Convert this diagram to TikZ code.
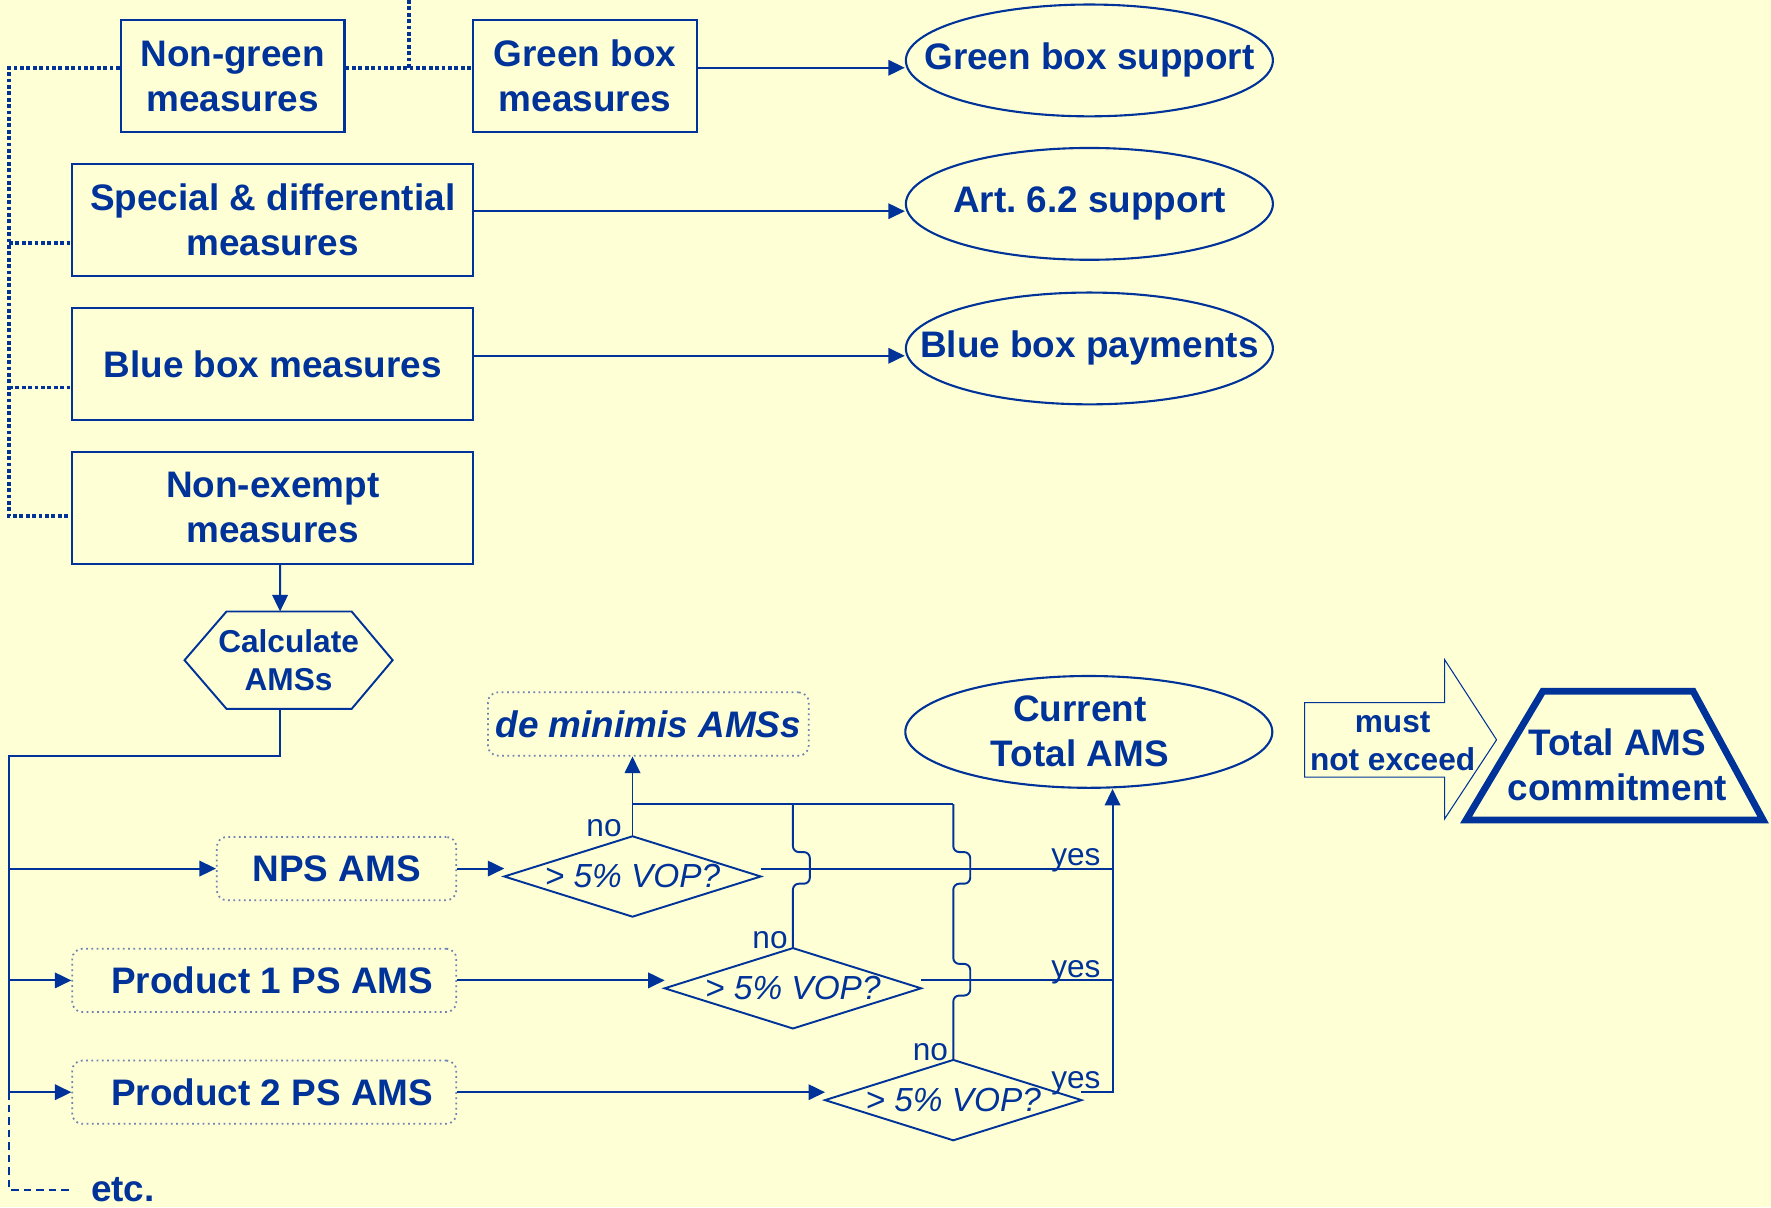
\documentclass[tikz,border=0pt]{standalone}
\usepackage{fontspec}
\setmainfont{Liberation Sans}
\usetikzlibrary{shapes.geometric, arrows.meta}
\definecolor{amsblue}{RGB}{0,51,153}
\definecolor{amspaper}{RGB}{255,255,213}
\definecolor{amsdot}{RGB}{110,130,180}
\newcommand\amsbig{\fontsize{10.5}{12.8}\selectfont\bfseries}
\newcommand\amssmall{\fontsize{9}{10.8}\selectfont\bfseries}

\begin{document}
\begin{tikzpicture}
    [x=0.11295mm, y=-0.11295mm,
    BoxNode/.style={draw=amsblue, line width=0.6pt, minimum height=11.18mm, inner sep=0pt, align=center, text=amsblue, font=\amsbig},
    OvalNode/.style={ellipse, draw=amsblue, line width=0.6pt, minimum width=36.7mm, minimum height=11.18mm, inner sep=0pt, align=center, text=amsblue, font=\amsbig},
    AmsNode/.style={draw=amsdot, densely dotted, line width=0.5pt, rounded corners=1mm, minimum height=6.33mm, inner sep=0pt, text=amsblue, font=\amsbig},
    VopNode/.style={minimum width=25.5mm, minimum height=7.9mm, inner sep=0pt, text=amsblue, font=\fontsize{9.5}{11}\selectfont\itshape},
    AnsNode/.style={inner sep=0pt, text=amsblue, font=\fontsize{9}{10}\selectfont},
    Link/.style={amsblue, line width=0.55pt},
    arr/.style={Link, -{Triangle[length=1.65mm, width=1.55mm]}},
    DotLine/.style={amsblue, line width=1.05pt, dash pattern=on 0.38mm off 0.26mm}]
    \fill[amspaper] (0,0) rectangle (1568,1069);
    \useasboundingbox (0,0) rectangle (1568,1069);

    \node[BoxNode, minimum width=22.36mm] (ngm) at (206,67.5){Non-green\\measures};
    \node[BoxNode, minimum width=22.36mm] (gbm) at (518,67.5){Green box\\measures};
    \node[BoxNode, minimum width=40.1mm] (spec) at (241.5,194.5){Special \& differential\\measures};
    \node[BoxNode, minimum width=40.1mm] (blue) at (241.5,322.5){Blue box measures};
    \node[BoxNode, minimum width=40.1mm] (nex) at (241.5,449.5){Non-exempt\\measures};
    \node[OvalNode] (gbs) at (964.5,53.5){\makebox[0pt]{Green box support}};
    \node[OvalNode] (art) at (964.5,180.5){\makebox[0pt]{Art.\ 6.2 support}};
    \node[OvalNode] (bbp) at (964.5,308.5){\makebox[0pt]{Blue box payments}};
    \node[OvalNode] (cur) at (964,648){\makebox[0pt]{\hspace{-1.8mm}\smash{\raisebox{-1.3mm}{\begin{tabular}{@{}c@{}}Current\\Total AMS\end{tabular}}}}};

    \coordinate (toprow) at (0,60);
    \coordinate (artrow) at (0,187);
    \coordinate (bbprow) at (0,315);
    \coordinate (topdot) at (362,0);
    \coordinate (db1) at (8,215);
    \coordinate (db2) at (8,343);
    \coordinate (db3) at (8,457);
    \draw[DotLine] (topdot) -- (topdot |- toprow);
    \draw[DotLine] (ngm.east |- toprow) -- (gbm.west |- toprow);
    \draw[DotLine] (ngm.west |- toprow) -| (db3) -- (db3 -| nex.west);
    \draw[DotLine] (db1) -- (db1 -| spec.west);
    \draw[DotLine] (db2) -- (db2 -| blue.west);
    \draw[arr] (gbm.east |- toprow) -- (gbs.west |- toprow);
    \draw[arr] (spec.east |- artrow) -- (art.west |- artrow);
    \draw[arr] (blue.east |- bbprow) -- (bbp.west |- bbprow);

    \node[minimum width=20.67mm, minimum height=9.6mm, inner sep=0pt, align=center, text=amsblue, font=\amssmall] (calc) at (255.5,584.5){Calculate\\AMSs};
    \draw[Link] (calc.west) -- ([xshift=4.2mm]calc.north west) -- ([xshift=-4.1mm]calc.north east) -- (calc.east) -- ([xshift=-4.1mm]calc.south east) -- ([xshift=4.2mm]calc.south west) -- cycle;
    \draw[arr] ([xshift=0.73mm]nex.south) -- ([xshift=-0.85mm]calc.north);

    \node[AmsNode, minimum width=23.95mm] (nps) at (298,769){NPS AMS};
    \node[AmsNode, minimum width=38.4mm] (prod1) at (234,868){\hspace{1.6mm}Product 1 PS AMS};
    \node[AmsNode, minimum width=38.4mm] (prod2) at (234,967){\hspace{1.6mm}Product 2 PS AMS};
    \node[AmsNode, minimum width=32.08mm, font=\amsbig\itshape] (dem) at (574,641){de minimis AMSs};
    \node[anchor=base west, inner sep=0pt, text=amsblue, font=\amsbig] (etc) at (80,1064){etc.};

    \coordinate (trunk) at (8,669);
    \draw[Link] ([xshift=-0.85mm]calc.south) |- (trunk) -- (trunk |- prod2.west);
    \draw[Link, dashed, dash pattern=on 0.75mm off 0.5mm] (trunk |- prod2.west) |- ([xshift=-1.8mm]etc.west);
    \draw[arr] (trunk |- nps.west) -- (nps.west);
    \draw[arr] (trunk |- prod1.west) -- (prod1.west);
    \draw[arr] (trunk |- prod2.west) -- (prod2.west);

    \node[VopNode] (d1) at (560,776){> 5\% VOP?};
    \node[VopNode] (d2) at (702,875){> 5\% VOP?};
    \node[VopNode] (d3) at (844,974){> 5\% VOP?};
    \foreach \d in {d1,d2,d3}
        \draw[Link] (\d.west) -- (\d.north) -- (\d.east) -- (\d.south) -- cycle;
    \draw[arr] (nps.east) -- (nps.east -| d1.west);
    \draw[arr] (prod1.east) -- (prod1.east -| d2.west);
    \draw[arr] (prod2.east) -- (prod2.east -| d3.west);

    \coordinate (nobar) at (0,712);
    \coordinate (yesx) at (985,0);
    \draw[arr] (d1.north) -- (d1.north |- dem.south);
    \draw[Link] (d1.north |- nobar) -- (d3.north |- nobar);
    \draw[Link, rounded corners=0.6mm] (d2.north) -- ++(0,-57) -- ++(15,0) -- ++(0,-28) -- ++(-15,0) -- (d2.north |- nobar);
    \draw[Link, rounded corners=0.6mm] (d3.north) -- ++(0,-57) -- ++(15,0) -- ++(0,-28) -- ++(-15,0) -- ++(0,-71) -- ++(15,0) -- ++(0,-28) -- ++(-15,0) -- (d3.north |- nobar);
    \draw[Link] (nps.east -| d1.east) -- (nps.east -| yesx);
    \draw[Link] (prod1.east -| d2.east) -- (prod1.east -| yesx);
    \draw[arr] (prod2.east -| d3.east) -| (cur.south -| yesx);
    \node[AnsNode, anchor=base east] (no1) at (551,741){no};
    \node[AnsNode, anchor=base east] (no2) at (698,840){no};
    \node[AnsNode, anchor=base east] (no3) at (840,939){no};
    \node[AnsNode, anchor=base east] (yes1) at (975,766){yes};
    \node[AnsNode, anchor=base east] (yes2) at (975,865){yes};
    \node[AnsNode, anchor=base east] (yes3) at (975,964){yes};

    \draw[amsblue, line width=0.3pt] (1155,622) -- (1279,622) -- (1279,584) -- (1325,655) -- (1279,725) -- (1279,688) -- (1155,688) -- cycle;
    \node[align=center, inner sep=0pt, text=amsblue, font=\amssmall] (mne) at (1233,656){must\\not exceed};
    \draw[amsblue, line width=1.95pt, line join=miter] (1366,612) -- (1499,612) -- (1561,726) -- (1298,726) -- cycle;
    \node[align=center, inner sep=0pt, text=amsblue, font=\amsbig] (tam) at (1432,677){Total AMS\\commitment};
\end{tikzpicture}
\end{document}
